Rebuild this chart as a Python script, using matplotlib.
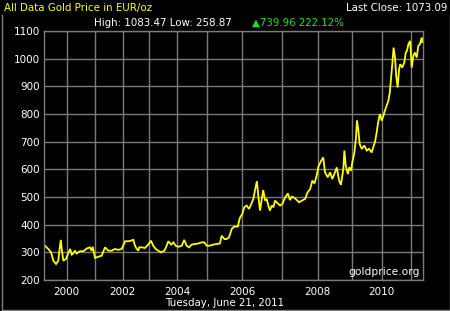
import numpy as np
import matplotlib
matplotlib.use("Agg")
import matplotlib.pyplot as plt
from matplotlib.lines import Line2D

# ---- data (fractional year, EUR/oz) ----
dates = [
    1999.00, 1999.19, 1999.31, 1999.41, 1999.53, 1999.63, 1999.67, 1999.74, 1999.78, 1999.85, 1999.97,
    2000.02, 2000.12, 2000.18, 2000.23, 2000.29, 2000.35, 2000.47, 2000.59, 2000.71, 2000.82, 2000.88, 2000.92, 2000.96,
    2001.00, 2001.12, 2001.24, 2001.36, 2001.48, 2001.60, 2001.72, 2001.84, 2001.96,
    2002.09, 2002.21, 2002.30, 2002.40, 2002.46, 2002.53, 2002.59, 2002.62, 2002.71, 2002.84, 2002.96,
    2003.06, 2003.14, 2003.23, 2003.32, 2003.42, 2003.54, 2003.62, 2003.68, 2003.78, 2003.86, 2003.94,
    2004.03, 2004.15, 2004.23, 2004.31, 2004.39, 2004.48, 2004.59, 2004.70, 2004.81, 2004.90, 2004.98,
    2005.08, 2005.17, 2005.27, 2005.36, 2005.41, 2005.49, 2005.55, 2005.62, 2005.70, 2005.77, 2005.87, 2005.93,
    2006.00, 2006.05, 2006.11, 2006.17, 2006.22, 2006.28, 2006.32, 2006.37, 2006.41, 2006.45, 2006.49, 2006.53,
    2006.58, 2006.62, 2006.66, 2006.70, 2006.75, 2006.79, 2006.83, 2006.90, 2006.96,
    2007.02, 2007.09, 2007.17, 2007.23, 2007.28, 2007.35, 2007.42, 2007.48, 2007.56, 2007.65, 2007.72, 2007.79,
    2007.85, 2007.91, 2007.97,
    2008.02, 2008.10, 2008.16, 2008.21, 2008.29, 2008.36, 2008.42, 2008.48, 2008.55, 2008.62, 2008.67, 2008.74,
    2008.77, 2008.81, 2008.87, 2008.91, 2008.96,
    2009.00, 2009.07, 2009.12, 2009.16, 2009.20, 2009.25, 2009.32, 2009.41, 2009.49, 2009.57, 2009.66, 2009.73,
    2009.77, 2009.83, 2009.88, 2009.94,
    2010.00, 2010.06, 2010.11, 2010.17, 2010.23, 2010.28, 2010.32, 2010.37, 2010.41, 2010.46, 2010.50, 2010.55,
    2010.60, 2010.64, 2010.71, 2010.78, 2010.83, 2010.87, 2010.92, 2010.98,
    2011.04, 2011.10, 2011.16, 2011.23, 2011.29, 2011.35, 2011.42, 2011.44, 2011.47,
]
price_eur = [
    327, 312, 300, 270, 258, 270, 300, 345, 312, 270, 276,
    288, 312, 292, 296, 306, 296, 304, 304, 314, 318, 306, 320, 300,
    280, 284, 288, 318, 306, 306, 312, 309, 312,
    340, 340, 342, 345, 324, 312, 306, 318, 318, 316, 328,
    342, 324, 312, 306, 300, 306, 324, 340, 328, 336, 324,
    320, 324, 345, 324, 318, 328, 330, 332, 336, 336, 324,
    324, 328, 330, 332, 360, 348, 348, 354, 385, 393, 393, 424,
    439, 463, 469, 457, 472, 493, 523, 557, 499, 451, 487, 525,
    487, 493, 469, 451, 469, 463, 487, 477, 469,
    475, 497, 513, 489, 501, 497, 489, 481, 487, 493, 517, 529,
    559, 549, 577,
    610, 631, 643, 590, 571, 589, 565, 583, 607, 559, 544, 601,
    668, 613, 583, 607, 595,
    625, 661, 709, 776, 746, 692, 674, 686, 668, 674, 661, 686,
    698, 734, 770, 800,
    776, 794, 812, 830, 848, 878, 926, 986, 1040, 1004, 938, 896,
    962, 980, 968, 986, 1022, 1028, 1052, 1064,
    968, 1010, 1022, 1004, 1046, 1052, 1076, 1058, 1073,
]
year_ticks = [2000, 2002, 2004, 2006, 2008, 2010]
year_labels = ["2000", "2002", "2004", "2006", "2008", "2010"]
y_ticks = [200, 300, 400, 500, 600, 700, 800, 900, 1000, 1100]

# ---- index-based (non-uniform) time axis ----
knot_years = np.array([1990.0, 1999.0, 2000, 2001, 2002, 2003, 2004, 2005, 2006, 2007,
                       2008, 2009, 2010, 2011, 2011.47, 2020.0])
knot_pos = np.array([-9 * 0.0599 / 1.0, 0.0, 0.0599, 0.1346, 0.2077, 0.2778, 0.3517, 0.4309,
                     0.5232, 0.6272, 0.7222, 0.8135, 0.8910, 0.9675, 1.0, 1.0 + 8.53 * 0.0675])


def fwd(x):
    return np.interp(np.asarray(x, float), knot_years, knot_pos)


def inv(p):
    return np.interp(np.asarray(p, float), knot_pos, knot_years)


W, H = 450, 311
fig = plt.figure(figsize=(W / 100, H / 100), dpi=100, facecolor="black")
ax = fig.add_axes([44 / W, 1 - 280 / H, 379 / W, 249 / H], facecolor="black")
ax.set_xscale("function", functions=(fwd, inv))
ax.set_xlim(1999.0, 2011.47)
ax.set_ylim(200, 1100)

grid_c = "#7a7a7a"
ax.set_xticks(year_ticks)
ax.set_xticklabels(year_labels)
ax.set_xticks([y for y in range(2001, 2012, 2)], minor=True)
ax.set_yticks(y_ticks)
ax.grid(True, which="both", color=grid_c, linewidth=1.0)
ax.set_axisbelow(True)
for s in ax.spines.values():
    s.set_color(grid_c)
    s.set_linewidth(1.0)
ax.tick_params(axis="both", which="both", length=0, colors="white", labelsize=7.5)
ax.tick_params(axis="x", pad=5)
ax.tick_params(axis="y", pad=3)

ax.plot(dates, price_eur, color="#ffff00", linewidth=1.3, solid_joinstyle="miter")

fs = 7.4
fig.text(4 / W, 1 - 8 / H, "All Data Gold Price in EUR/oz", color="#ffff00",
         fontsize=fs, ha="left", va="center")
fig.text(447 / W, 1 - 8 / H, "Last Close: 1073.09", color="white",
         fontsize=fs, ha="right", va="center")
fig.text(94 / W, 1 - 23 / H, "High: 1083.47 Low: 258.87", color="white",
         fontsize=fs, ha="left", va="center")
fig.text(252 / W, 1 - 23 / H, "\u25b2739.96 222.12%", color="#22e022",
         fontsize=fs, ha="left", va="center")
fig.text(420 / W, 1 - 272 / H, "goldprice.org", color="white",
         fontsize=fs + 0.3, ha="right", va="center")
fig.text(225 / W, 1 - 303 / H, "Tuesday, June 21, 2011", color="white",
         fontsize=fs, ha="center", va="center")

# outer frame
fc = "#808080"
fig.add_artist(Line2D([1.5 / W, 1.5 / W], [1 - 15 / H, 1 - 309.5 / H], color=fc, lw=1, transform=fig.transFigure))
fig.add_artist(Line2D([1.5 / W, 449.5 / W], [1 - 309.5 / H, 1 - 309.5 / H], color=fc, lw=1, transform=fig.transFigure))
fig.add_artist(Line2D([449.5 / W, 449.5 / W], [1 - 15 / H, 1 - 309.5 / H], color=fc, lw=1, transform=fig.transFigure))

fig.savefig("out.png", dpi=100, facecolor="black")
